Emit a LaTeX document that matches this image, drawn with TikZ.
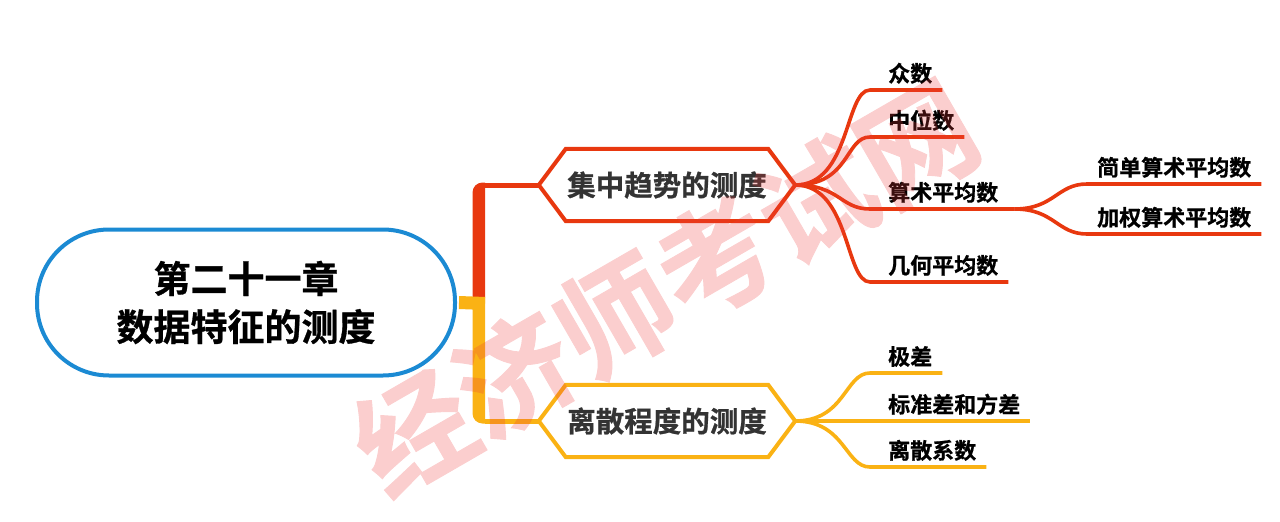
\documentclass[tikz,border=0pt]{standalone}
\usepackage{fontspec}
\setmainfont{Noto Sans CJK SC}[BoldFont={Noto Sans CJK SC Bold}, BoldFeatures={FakeBold=0.8}]
\usetikzlibrary{positioning,calc}
\definecolor{MapBlue}{HTML}{1B8AD3}
\definecolor{MapRed}{HTML}{E8380F}
\definecolor{MapAmber}{HTML}{FAB214}
\definecolor{MapInk}{HTML}{333333}
\definecolor{MarkPink}{HTML}{EE3B3B}

\begin{document}
\begin{tikzpicture}[x=1pt, y=-1pt,
  root/.style={draw=MapBlue, line width=4pt, rounded corners=72pt,
               minimum width=418pt, minimum height=146pt, align=center,
               font=\bfseries\fontsize{37}{48}\selectfont},
  topic/.style={minimum width=202pt, minimum height=72pt, inner sep=0pt,
                text=MapInk, font=\bfseries\fontsize{28.5}{30}\selectfont},
  hexR/.style={draw=MapRed, line width=4pt},
  hexA/.style={draw=MapAmber, line width=4pt},
  leaf/.style={anchor=south west, inner xsep=0pt, inner ysep=6pt,
               font=\bfseries\fontsize{22}{24}\selectfont},
  twigR/.style={MapRed, line width=3.6pt},
  twigA/.style={MapAmber, line width=3.6pt}]
  \useasboundingbox (0,0) rectangle (1280,522);

  \node[root] (root) at (246,302.5) {第二十一章\\数据特征的测度};
  \node[topic] (h1) at (667,185) {集中趋势的测度};
  \node[topic] (h2) at (667,421) {离散程度的测度};
  \draw[hexR] (h1.north west) -- (h1.north east) -- ([xshift=27pt]h1.east)
    -- (h1.south east) -- (h1.south west) -- ([xshift=-27pt]h1.west) -- cycle;
  \draw[hexA] (h2.north west) -- (h2.north east) -- ([xshift=27pt]h2.east)
    -- (h2.south east) -- (h2.south west) -- ([xshift=-27pt]h2.west) -- cycle;
  \coordinate (h1in) at ([xshift=-27pt]h1.west);
  \coordinate (h1out) at ([xshift=27pt]h1.east);
  \coordinate (h2in) at ([xshift=-27pt]h2.west);
  \coordinate (h2out) at ([xshift=27pt]h2.east);
  \coordinate (fork) at (485,303.5);

  % trunk
  \fill[MapRed] (472.5,297) -- (472.5,192.5) arc[start angle=180, end angle=270, radius=10]
    -- (485,182.5) -- (485,297) -- cycle;
  \fill[MapAmber] (472.5,297) -- (472.5,413.5) arc[start angle=180, end angle=90, radius=10]
    -- (485,423.5) -- (485,297) -- cycle;
  \draw[MapAmber, line width=13pt] ([xshift=2pt]root.east) -- (fork);
  \draw[MapRed, line width=5pt] (fork |- h1in) -- (h1in);
  \draw[MapAmber, line width=5pt] (fork |- h2in) -- (h2in);

  % central tendency
  \node[leaf] (zs) at (888,90) {众数};
  \node[leaf] (zw) at (888,137) {中位数};
  \node[leaf] (ss) at (888,209) {算术平均数};
  \node[leaf] (jh) at (888,282) {几何平均数};
  \node[leaf] (jd) at (1097,184) {简单算术平均数};
  \node[leaf] (jq) at (1097,234) {加权算术平均数};
  \coordinate (ssfork) at ([xshift=16pt]ss.south east);
  \draw[twigR] (h1out) .. controls +(55,0) and +(-25,0) .. ([xshift=-18pt]zs.south west) -- ([xshift=10pt]zs.south east);
  \draw[twigR] (h1out) .. controls +(55,0) and +(-25,0) .. ([xshift=-18pt]zw.south west) -- ([xshift=10pt]zw.south east);
  \draw[twigR] (h1out) .. controls +(45,0) and +(-30,0) .. ([xshift=-18pt]ss.south west) -- (ssfork);
  \draw[twigR] (h1out) .. controls +(55,0) and +(-25,0) .. ([xshift=-18pt]jh.south west) -- ([xshift=10pt]jh.south east);
  \draw[twigR] (ssfork) .. controls +(40,0) and +(-30,0) .. ([xshift=-10pt]jd.south west) -- ([xshift=10pt]jd.south east);
  \draw[twigR] (ssfork) .. controls +(40,0) and +(-30,0) .. ([xshift=-10pt]jq.south west) -- ([xshift=10pt]jq.south east);

  % dispersion
  \node[leaf] (jc) at (888,373) {极差};
  \node[leaf] (bz) at (888,421) {标准差和方差};
  \node[leaf] (lx) at (888,467) {离散系数};
  \draw[twigA] (h2out) .. controls +(50,0) and +(-25,0) .. ([xshift=-18pt]jc.south west) -- ([xshift=10pt]jc.south east);
  \draw[twigA] (h2out) -- ([xshift=10pt]bz.south east);
  \draw[twigA] (h2out) .. controls +(50,0) and +(-25,0) .. ([xshift=-18pt]lx.south west) -- ([xshift=10pt]lx.south east);

  % watermark
  \begin{scope}[transparency group, opacity=0.25]
    \node[rotate=30, text=MarkPink,
          font=\bfseries\fontsize{116}{116}\selectfont] (mark) at (665,287) {经济师考试网};
  \end{scope}
\end{tikzpicture}
\end{document}
